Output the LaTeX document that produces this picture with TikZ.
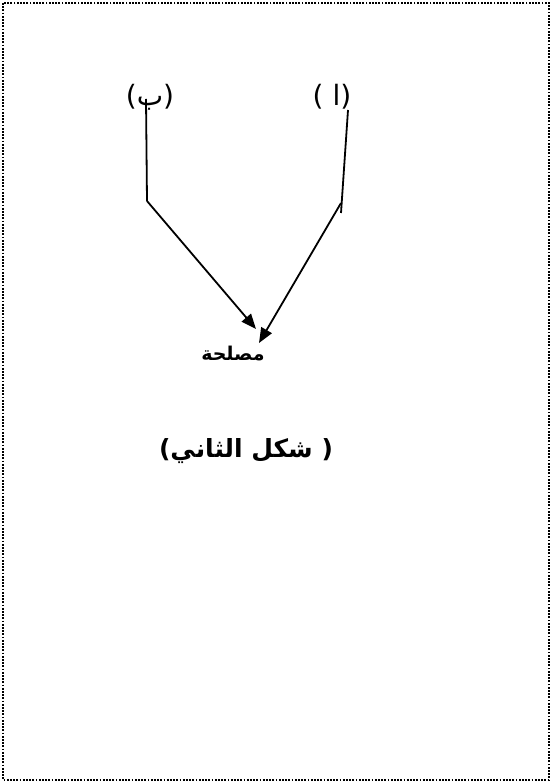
\documentclass[tikz,border=0pt]{standalone}
\usepackage{fontspec}
\newfontfamily\arabicfont[Script=Arabic]{DejaVu Sans}
\newfontfamily\parenfont{DejaVu Sans}
\TeXXeTstate=1
\usetikzlibrary{arrows.meta}
\begin{document}
\begin{tikzpicture}[x=1pt,y=-1pt]
\useasboundingbox (0,0) rectangle (552,783);
\draw[line width=1.6pt,dash pattern=on 1.8pt off 1.4pt] (3,3) rectangle (549,780);

\node (labB) at (150,97) {\fontsize{28}{32}\selectfont\parenfont(\arabicfont\beginR ب\endR\parenfont)};
\node (labA) at (332,97) {\fontsize{28}{32}\selectfont\parenfont(\ \arabicfont\beginR ا\endR\parenfont)};
\node (mslh) at (233,354) {\fontsize{19}{22}\selectfont\arabicfont\bfseries\beginR مصلحة\endR};
\node (title) at (246,451) {\fontsize{25}{30}\selectfont\bfseries\parenfont(\arabicfont\beginR شكل الثاني\endR\parenfont\ )};

\coordinate (bendB) at (147,201);
\coordinate (tipB) at (256,329);
\coordinate (bendA) at (341,203);
\coordinate (tipA) at (259,343);

\draw[line width=1.8pt] (146,99) -- (bendB);
\draw[line width=1.8pt,-{Triangle[length=15pt,width=12pt]}] (bendB) -- (tipB);
\draw[line width=1.8pt] (348,110) -- (341,213);
\draw[line width=1.8pt,-{Triangle[length=15pt,width=12pt]}] (bendA) -- (tipA);
\end{tikzpicture}
\end{document}
